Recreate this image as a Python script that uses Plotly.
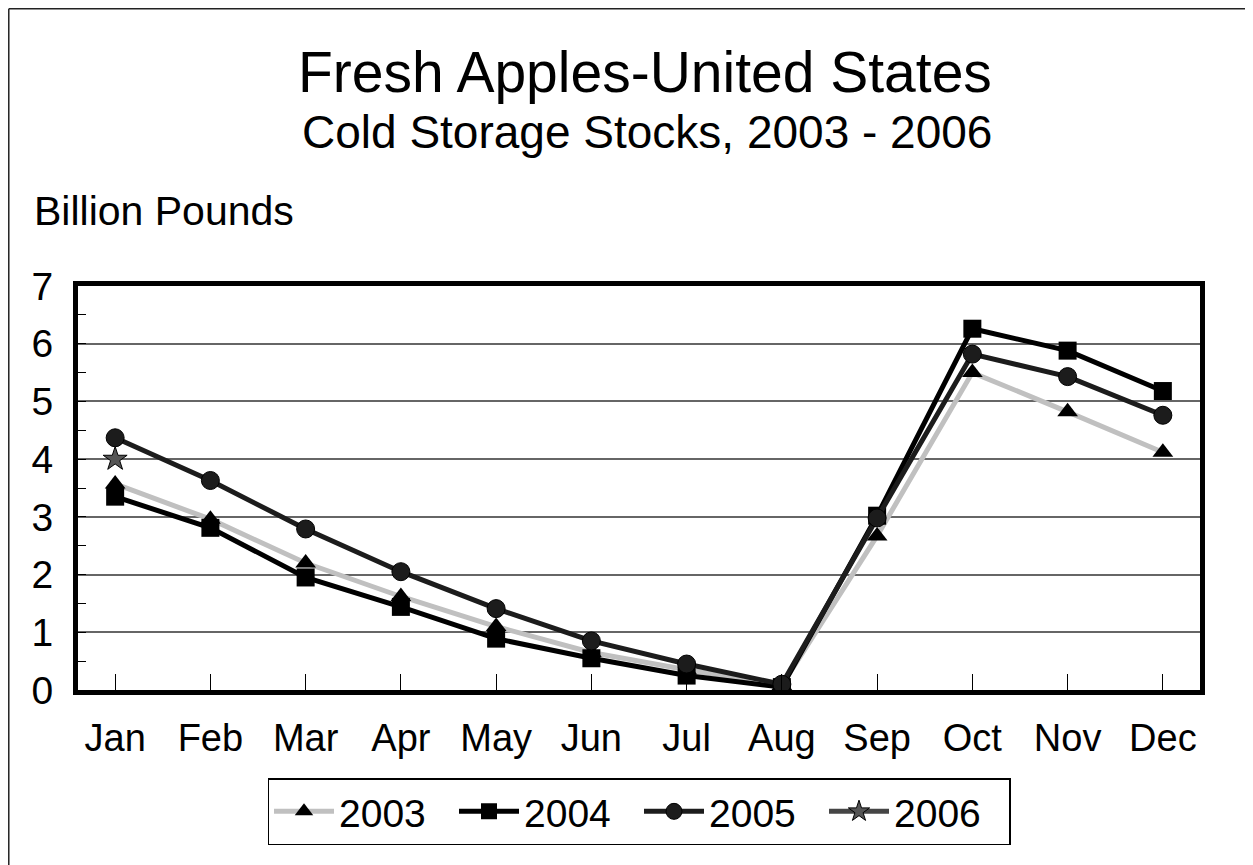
import plotly.graph_objects as go

months = ["Jan", "Feb", "Mar", "Apr", "May", "Jun", "Jul", "Aug", "Sep", "Oct", "Nov", "Dec"]
y2003 = [3.57, 2.96, 2.2, 1.62, 1.1, 0.65, 0.35, 0.08, 2.67, 5.5, 4.82, 4.12]
y2004 = [3.35, 2.81, 1.95, 1.44, 0.89, 0.55, 0.25, 0.05, 3.02, 6.26, 5.88, 5.18]
y2005 = [4.37, 3.63, 2.79, 2.05, 1.41, 0.85, 0.45, 0.1, 2.98, 5.82, 5.43, 4.76]
y2006 = [4.0]
months2006 = ["Jan"]
yticks = [0, 1, 2, 3, 4, 5, 6, 7]

FONT = "Liberation Sans, Arial, sans-serif"

W, H = 1253, 865
ML, MR, MT, MB = 70, 60.5, 278, 183
pw = W - ML - MR
ph = H - MT - MB


def px(fx):
    return (fx - ML) / pw


def py(fy):
    return (H - MB - fy) / ph


fig = go.Figure()
fig.add_trace(go.Scatter(x=months, y=y2003, name="2003", mode="lines+markers",
                         line=dict(color="#c0c0c0", width=5),
                         marker=dict(symbol="triangle-up", size=18, color="black",
                                     line=dict(width=0))))
fig.add_trace(go.Scatter(x=months, y=y2004, name="2004", mode="lines+markers",
                         line=dict(color="black", width=5),
                         marker=dict(symbol="square", size=18, color="black",
                                     line=dict(width=0))))
fig.add_trace(go.Scatter(x=months, y=y2005, name="2005", mode="lines+markers",
                         line=dict(color="#1c1c1c", width=5),
                         marker=dict(symbol="circle", size=18, color="#1c1c1c",
                                     line=dict(width=1, color="black"))))
fig.add_trace(go.Scatter(x=months2006, y=y2006, name="2006", mode="lines+markers",
                         line=dict(color="#454545", width=5),
                         marker=dict(symbol="star", size=18, color="#555555",
                                     line=dict(width=1, color="black"))))

fig.update_layout(
    width=W, height=H,
    margin=dict(l=ML, r=MR, t=MT, b=MB, autoexpand=False),
    paper_bgcolor="white", plot_bgcolor="white",
    font=dict(family=FONT, color="black"),
    showlegend=True,
    legend=dict(orientation="h", x=0.5, xanchor="center", y=py(770), yanchor="top",
                bordercolor="black", borderwidth=1.5, bgcolor="white",
                font=dict(size=39, family=FONT), itemwidth=60,
                entrywidth=110, entrywidthmode="pixels"),
    annotations=[
        dict(text="Fresh Apples-United States", x=px(637), y=py(64), xref="paper", yref="paper",
             xanchor="center", yanchor="middle", showarrow=False, font=dict(size=57, family=FONT)),
        dict(text="Cold Storage Stocks, 2003 - 2006", x=px(639.5), y=py(124), xref="paper", yref="paper",
             xanchor="center", yanchor="middle", showarrow=False, font=dict(size=46, family=FONT)),
        dict(text="Billion Pounds", x=px(24), y=py(203), xref="paper", yref="paper",
             xanchor="left", yanchor="middle", showarrow=False, font=dict(size=41, family=FONT)),
    ],
    shapes=[
        dict(type="line", xref="paper", yref="paper",
             x0=px(0.75), x1=px(W + 10), y0=py(0.75), y1=py(0.75),
             line=dict(color="#222222", width=1.5)),
        dict(type="line", xref="paper", yref="paper",
             x0=px(0.75), x1=px(0.75), y0=py(0.75), y1=py(H + 10),
             line=dict(color="#222222", width=1.5)),
    ],
)

fig.update_xaxes(
    type="category", range=[-0.39, 11.39],
    showline=True, linecolor="black", linewidth=5, mirror=True,
    showgrid=False, zeroline=False,
    ticks="inside", ticklen=16, tickwidth=1, tickcolor="black",
    tickfont=dict(size=38, family=FONT), ticklabelstandoff=10,
)
fig.update_yaxes(
    range=[0, 7], tickvals=yticks,
    showline=True, linecolor="black", linewidth=5, mirror=True,
    showgrid=True, gridcolor="#666666", gridwidth=1.5, zeroline=False,
    ticks="inside", ticklen=8, tickwidth=1, tickcolor="black",
    minor=dict(dtick=0.5, ticks="inside", ticklen=8, tickcolor="black", showgrid=False),
    tickfont=dict(size=39, family=FONT), ticklabelstandoff=12,
)

fig.write_html("out.html")
